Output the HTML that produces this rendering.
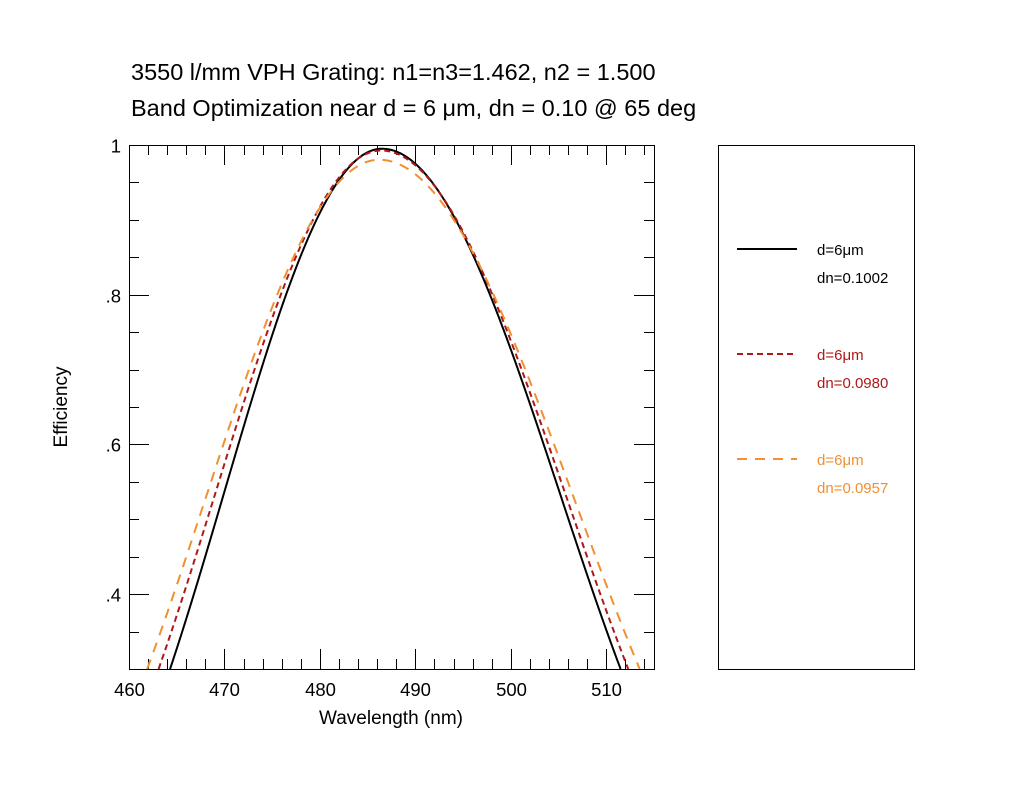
<!DOCTYPE html>
<html><head><meta charset="utf-8"><style>
body{margin:0;background:#fff;}
svg{display:block;font-family:"Liberation Sans",Arial,sans-serif;}
</style></head><body>
<svg id="s" width="1034" height="800" xmlns="http://www.w3.org/2000/svg">
<rect width="1034" height="800" fill="#fff"/>
<text x="131" y="80" font-size="23.5">3550 l/mm VPH Grating: n1=n3=1.462, n2 = 1.500</text>
<text x="131" y="116" font-size="23.5">Band Optimization near d = 6 μm, dn = 0.10 @ 65 deg</text>
<g id="ax" stroke="#000" stroke-width="1" fill="none"></g>
<g font-size="18.5" id="lbl"></g>
<text x="391" y="724" font-size="19" text-anchor="middle">Wavelength (nm)</text>
<text transform="translate(67,407) rotate(-90)" font-size="19" text-anchor="middle">Efficiency</text>
<g id="curves" fill="none" stroke-width="2"></g>
<rect x="718.5" y="145.5" width="196" height="524" fill="none" stroke="#000"/>
<line x1="737" y1="249" x2="797" y2="249" stroke="#000" stroke-width="2"/>
<text x="817" y="255" font-size="15">d=6μm</text>
<text x="817" y="283" font-size="15">dn=0.1002</text>
<line x1="737" y1="354" x2="797" y2="354" stroke="#b01818" stroke-width="2" stroke-dasharray="6 4"/>
<text x="817" y="360" font-size="15" fill="#b01818">d=6μm</text>
<text x="817" y="388" font-size="15" fill="#b01818">dn=0.0980</text>
<line x1="737" y1="459" x2="797" y2="459" stroke="#f09030" stroke-width="2" stroke-dasharray="10 8"/>
<text x="817" y="465" font-size="15" fill="#f09030">d=6μm</text>
<text x="817" y="493" font-size="15" fill="#f09030">dn=0.0957</text>
</svg>
<script>
var NS="http://www.w3.org/2000/svg";
function el(p,t,a,txt){var e=document.createElementNS(NS,t);for(var k in a)e.setAttribute(k,a[k]);if(txt)e.textContent=txt;p.appendChild(e);return e;}
var ax=document.getElementById('ax'),lb=document.getElementById('lbl');
var L=129,R=654,T=145,B=669;
function X(l){return L+(l-460)*(R-L)/55;}
function Y(v){return T+(1-v)*(B-T)/0.7;}
el(ax,'rect',{x:L+.5,y:T+.5,width:R-L,height:B-T});
for(var l=460;l<=515;l+=2){var x=Math.round(X(l))+.5,len=(l%10==0)?20:10;
 el(ax,'line',{x1:x,y1:B,x2:x,y2:B-len});el(ax,'line',{x1:x,y1:T,x2:x,y2:T+len});
 if(l%10==0)el(lb,'text',{x:x,y:B+27,'text-anchor':'middle'},String(l));}
for(var i=0;i<=14;i++){var v=0.3+i*0.05,y=Math.round(Y(v))+.5,maj=(i%4==2);var len=maj?20:10;
 el(ax,'line',{x1:L,y1:y,x2:L+len,y2:y});el(ax,'line',{x1:R,y1:y,x2:R-len,y2:y});
 if(maj){var s=v>0.99?'1':('.'+Math.round(v*10));el(lb,'text',{x:L-8,y:y+7,'text-anchor':'end'},s);}}
function eta(nu,xi){var q=Math.sqrt(nu*nu+xi*xi);var s=Math.sin(q);return s*s/(1+xi*xi/(nu*nu));}
function solve(nu){var a=0,b=3;for(var i=0;i<60;i++){var m=(a+b)/2;if(eta(nu,m)>0.3)a=m;else b=m;}return a;}
var cg=document.getElementById('curves');
[[1.50,486.5,464.3,511.5,'#000',''],[1.485,486.4,463.1,512.3,'#b01818','6 4'],[1.43,486.2,461.9,513.5,'#f09030','10 8']].forEach(function(c){
 var nu=c[0],l0=c[1],xs=solve(nu),kL=xs/(l0-c[2]),kR=xs/(c[3]-l0),d='';
 for(var l=c[2];l<=c[3]+1e-6;l+=0.1){var xi=(l<l0?kL:kR)*(l-l0);var v=eta(nu,xi);
  d+=(d?'L':'M')+X(l).toFixed(2)+','+Y(v).toFixed(2);}
 var a={d:d,stroke:c[4]};if(c[5])a['stroke-dasharray']=c[5];el(cg,'path',a);});
</script>
</body></html>
